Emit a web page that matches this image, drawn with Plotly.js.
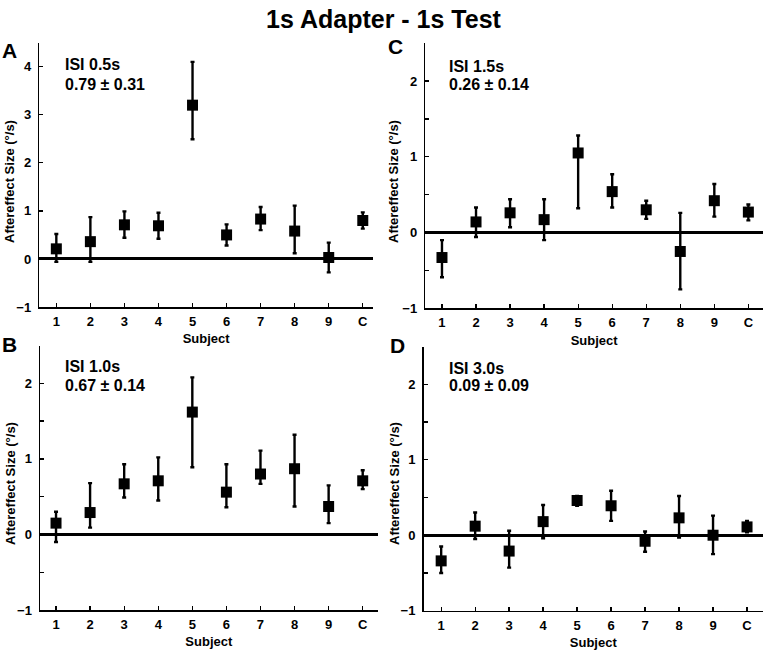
<!DOCTYPE html>
<html>
<head>
<meta charset="utf-8">
<script src="https://cdn.plot.ly/plotly-3.0.1.min.js"></script>
<style>html,body{margin:0;padding:0;background:#fff}#chart{width:767px;height:652px}</style>
</head>
<body>
<div id="chart"></div>
<script>
// Subjects (x categories)
const subjects = ['1','2','3','4','5','6','7','8','9','C'];

// Panel A: ISI 0.5s
const meanA  = [0.21, 0.36, 0.71, 0.69, 3.20, 0.50, 0.83, 0.58, 0.03, 0.80];
const upperA = [0.52, 0.87, 0.99, 0.96, 4.10, 0.72, 1.08, 1.11, 0.34, 0.97];
const lowerA = [-0.06, -0.06, 0.44, 0.42, 2.49, 0.28, 0.60, 0.12, -0.28, 0.63];

// Panel B: ISI 1.0s
const meanB  = [0.15, 0.29, 0.67, 0.71, 1.62, 0.56, 0.80, 0.87, 0.37, 0.71];
const upperB = [0.30, 0.68, 0.93, 1.02, 2.08, 0.93, 1.11, 1.32, 0.65, 0.85];
const lowerB = [-0.10, 0.09, 0.49, 0.45, 0.89, 0.36, 0.67, 0.37, 0.15, 0.60];

// Panel C: ISI 1.5s
const meanC  = [-0.33, 0.14, 0.26, 0.17, 1.05, 0.54, 0.30, -0.25, 0.42, 0.27];
const upperC = [-0.10, 0.33, 0.44, 0.44, 1.28, 0.77, 0.42, 0.26, 0.64, 0.37];
const lowerC = [-0.59, -0.06, 0.07, -0.10, 0.32, 0.33, 0.18, -0.75, 0.21, 0.16];

// Panel D: ISI 3.0s
const meanD  = [-0.34, 0.12, -0.21, 0.18, 0.46, 0.39, -0.08, 0.23, 0.00, 0.11];
const upperD = [-0.15, 0.30, 0.06, 0.40, 0.52, 0.59, 0.05, 0.52, 0.26, 0.19];
const lowerD = [-0.50, -0.05, -0.43, -0.04, 0.39, 0.19, -0.22, -0.03, -0.25, 0.04];

const panelLetters = ['A', 'B', 'C', 'D'];
const isiLabels = ['ISI 0.5s', 'ISI 1.0s', 'ISI 1.5s', 'ISI 3.0s'];
const summaryLabels = ['0.79 \u00b1 0.31', '0.67 \u00b1 0.14', '0.26 \u00b1 0.14', '0.09 \u00b1 0.09'];
const mainTitle = '1s Adapter - 1s Test';
const xTitle = 'Subject';
const yTitle = 'Aftereffect Size (\u00b0/s)';

const FONT = '"Liberation Sans", Arial, Helvetica, sans-serif';

function trace(mean, upper, lower, xa, ya) {
  return {
    type: 'scatter', mode: 'markers',
    x: subjects, y: mean, xaxis: xa, yaxis: ya,
    marker: {symbol: 'square', size: 11, color: '#000'},
    error_y: {
      type: 'data', symmetric: false,
      array: upper.map((u, i) => u - mean[i]),
      arrayminus: lower.map((l, i) => mean[i] - l),
      color: '#000', thickness: 2.4, width: 2
    },
    hoverinfo: 'x+y', showlegend: false, cliponaxis: false
  };
}

const data = [
  trace(meanA, upperA, lowerA, 'x', 'y'),
  trace(meanC, upperC, lowerC, 'x2', 'y2'),
  trace(meanB, upperB, lowerB, 'x3', 'y3'),
  trace(meanD, upperD, lowerD, 'x4', 'y4')
];

const tickFont = {family: FONT, size: 13, color: '#000', weight: 'bold'};
const titleFont = {family: FONT, size: 13, color: '#000', weight: 'bold'};

function xax(domain, range, anchor) {
  return {
    domain: domain, range: range, anchor: anchor, type: 'category',
    showline: true, linecolor: '#000', linewidth: 1.5,
    ticks: 'inside', ticklen: 4, tickwidth: 1.3, tickcolor: '#000',
    showgrid: false, zeroline: false, tickfont: tickFont, ticklabelstandoff: 2,
    title: {text: xTitle, font: titleFont, standoff: 6}
  };
}
function yax(domain, range, anchor, minor) {
  const a = {
    domain: domain, range: range, anchor: anchor,
    showline: true, linecolor: '#000', linewidth: 1.5,
    ticks: 'inside', ticklen: 4, tickwidth: 1.3, tickcolor: '#000',
    showgrid: false, zeroline: true, zerolinecolor: '#000', zerolinewidth: 3,
    dtick: 1, tick0: 0, tickfont: tickFont, ticklabelstandoff: 4
  };
  if (minor) a.minor = {dtick: 0.5, tick0: 0, ticks: 'inside', ticklen: 4, tickwidth: 1.3, tickcolor: '#000', showgrid: false};
  return a;
}

const W = 767, H = 652;
const px = v => v / W, py = v => 1 - v / H;

const annotations = [];
const letterPos = [[0, 51], [0, 344.5], [386, 46], [388, 345.5]];
const textPos = [[63, 65, 84.5], [63, 366.5, 385.5], [447, 66.5, 84.5], [447, 368.5, 385.5]];
const yTitlePos = [[10, 182], [10, 484], [394, 182], [394, 484]];
for (let i = 0; i < 4; i++) {
  annotations.push({xref: 'paper', yref: 'paper', x: px(letterPos[i][0]), y: py(letterPos[i][1]),
    xanchor: 'left', yanchor: 'middle', text: panelLetters[i], showarrow: false,
    font: {family: FONT, size: 21, color: '#000', weight: 'bold'}});
  annotations.push({xref: 'paper', yref: 'paper', x: px(textPos[i][0]), y: py(textPos[i][1]),
    xanchor: 'left', yanchor: 'middle', text: isiLabels[i], showarrow: false,
    font: {family: FONT, size: 16, color: '#000', weight: 'bold'}});
  annotations.push({xref: 'paper', yref: 'paper', x: px(textPos[i][0]), y: py(textPos[i][2]),
    xanchor: 'left', yanchor: 'middle', text: summaryLabels[i], showarrow: false,
    font: {family: FONT, size: 16, color: '#000', weight: 'bold'}});
  annotations.push({xref: 'paper', yref: 'paper', x: px(yTitlePos[i][0]), y: py(yTitlePos[i][1]),
    xanchor: 'center', yanchor: 'middle', textangle: -90, text: yTitle, showarrow: false,
    font: titleFont});
}

const layout = {
  width: W, height: H,
  margin: {l: 0, r: 0, t: 0, b: 0},
  paper_bgcolor: '#fff', plot_bgcolor: '#fff',
  title: {text: mainTitle, x: 0.5, xanchor: 'center', y: py(19.5), yanchor: 'middle',
    font: {family: FONT, size: 25, color: '#000', weight: 'bold'}},
  xaxis:  xax([px(39.3), px(373)], [-0.5, 9.3], 'y'),
  yaxis:  yax([1 - 307 / H, 1 - 42.7 / H], [-1, 4.5], 'x', false),
  xaxis2: xax([px(425.3), px(763)], [-0.49, 9.43], 'y2'),
  yaxis2: yax([1 - 308.3 / H, 1 - 43.1 / H], [-1, 2.5], 'x2', true),
  xaxis3: xax([px(40), px(377.7)], [-0.47, 9.44], 'y3'),
  yaxis3: yax([1 - 610 / H, 1 - 345.6 / H], [-1, 2.5], 'x3', true),
  xaxis4: xax([px(423.5), px(763)], [-0.52, 9.47], 'y4'),
  yaxis4: yax([1 - 610.7 / H, 1 - 346.5 / H], [-1, 2.5], 'x4', true),
  annotations: annotations,
  showlegend: false
};

Plotly.newPlot('chart', data, layout, {displayModeBar: false, staticPlot: true});
</script>
</body>
</html>
